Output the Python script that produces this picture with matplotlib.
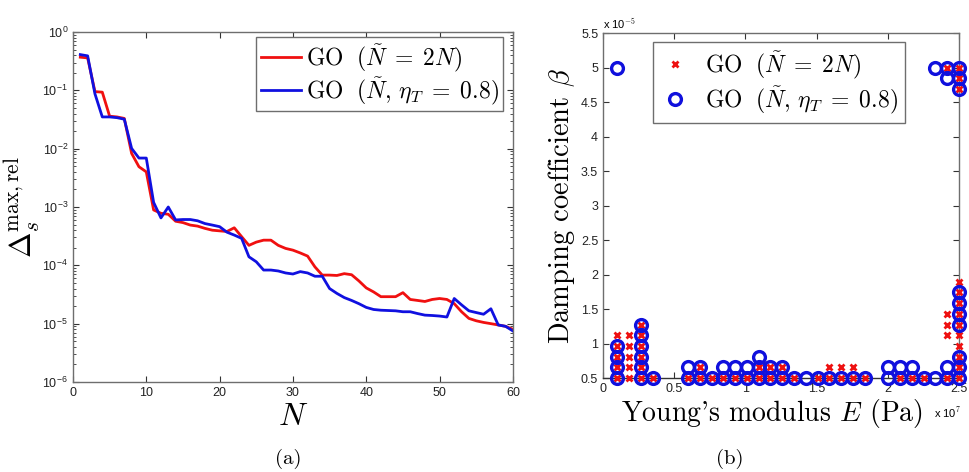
import matplotlib
matplotlib.use("Agg")
import matplotlib.pyplot as plt
from matplotlib.ticker import LogLocator, NullFormatter

plt.rcParams["mathtext.fontset"] = "cm"
plt.rcParams["font.family"] = ["Liberation Sans", "DejaVu Sans"]

# (a) convergence of the relative error vs N
n_vals = list(range(1, 61))
err_go_2n = [
    0.37, 0.36, 0.095, 0.093, 0.036, 0.035, 0.033, 0.0083, 0.0049, 0.0040,
    0.00089, 0.00078, 0.00075, 0.00057, 0.00054, 0.00049, 0.00047, 0.00043, 0.00040, 0.00039,
    0.00038, 0.00044, 0.00031, 0.00022, 0.00025, 0.00027, 0.00027, 0.00022, 0.000195, 0.000182,
    0.000163, 0.000144, 0.000094, 0.000068, 0.000068, 0.000067, 0.000072, 0.000069, 0.000054, 0.000041,
    0.000035, 0.000029, 0.000029, 0.000029, 0.000034, 0.000026, 0.000025, 0.000024, 0.000026, 0.000027,
    0.000026, 0.000022, 0.000016, 0.0000123, 0.0000112, 0.0000105, 0.0000100, 0.0000095, 0.0000090, 0.0000080,
]
err_go_eta = [
    0.41, 0.39, 0.087, 0.035, 0.035, 0.034, 0.032, 0.0101, 0.0069, 0.0069,
    0.0012, 0.00065, 0.0010, 0.00060, 0.00061, 0.00061, 0.00058, 0.00052, 0.00049, 0.00046,
    0.00037, 0.00033, 0.00029, 0.00014, 0.000115, 0.000083, 0.000083, 0.000080, 0.000074, 0.000071,
    0.000078, 0.000074, 0.000065, 0.000065, 0.000040, 0.000033, 0.000028, 0.000025, 0.000022, 0.000019,
    0.0000175, 0.000017, 0.0000168, 0.0000166, 0.000016, 0.000016, 0.0000149, 0.000014, 0.0000138, 0.0000135,
    0.000013, 0.000027, 0.000021, 0.0000166, 0.0000155, 0.0000145, 0.0000180, 0.0000095, 0.0000090, 0.0000075,
]

# (b) optimal parameters: E in units of 1e7 Pa, beta in units of 1e-5
red_E = [
    0.100, 0.100, 0.100, 0.100, 0.100,
    0.183, 0.183, 0.183, 0.183, 0.183,
    0.266, 0.266, 0.266, 0.266, 0.266, 0.266,
    0.348, 0.597, 0.679, 0.679, 0.762, 0.845, 0.928, 1.010,
    1.093, 1.093, 1.176, 1.176, 1.259, 1.259, 1.341, 1.507,
    1.590, 1.590, 1.672, 1.672, 1.755, 1.755, 1.838,
    2.086, 2.169, 2.252,
    2.417, 2.417, 2.417, 2.417, 2.417,
    2.500, 2.500, 2.500, 2.500, 2.500, 2.500, 2.500, 2.500, 2.500, 2.500,
    2.500, 2.500, 2.500,
]
red_beta = [
    0.500, 0.655, 0.810, 0.966, 1.121,
    0.500, 0.655, 0.810, 0.966, 1.121,
    0.500, 0.655, 0.810, 0.966, 1.121, 1.276,
    0.500, 0.500, 0.500, 0.655, 0.500, 0.500, 0.500, 0.500,
    0.500, 0.655, 0.500, 0.655, 0.500, 0.655, 0.500, 0.500,
    0.500, 0.655, 0.500, 0.655, 0.500, 0.655, 0.500,
    0.500, 0.500, 0.500,
    0.500, 1.121, 1.276, 1.431, 5.000,
    0.500, 0.655, 0.810, 0.966, 1.121, 1.276, 1.431, 1.586, 1.741, 1.897,
    4.690, 4.845, 5.000,
]
blue_E = [
    0.100, 0.100, 0.100, 0.100, 0.100,
    0.266, 0.266, 0.266, 0.266, 0.266, 0.266,
    0.348, 0.597, 0.597, 0.679, 0.679, 0.762, 0.845, 0.845,
    0.928, 0.928, 1.010, 1.010, 1.093, 1.093, 1.093,
    1.176, 1.176, 1.259, 1.259, 1.341, 1.424, 1.507, 1.590,
    1.672, 1.755, 1.838, 2.003, 2.003, 2.086, 2.086, 2.169, 2.169,
    2.252, 2.334, 2.334, 2.417, 2.417, 2.417, 2.417,
    2.500, 2.500, 2.500, 2.500, 2.500, 2.500, 2.500, 2.500, 2.500, 2.500,
]
blue_beta = [
    0.500, 0.655, 0.810, 0.966, 5.000,
    0.500, 0.655, 0.810, 0.966, 1.121, 1.276,
    0.500, 0.500, 0.655, 0.500, 0.655, 0.500, 0.500, 0.655,
    0.500, 0.655, 0.500, 0.655, 0.500, 0.655, 0.810,
    0.500, 0.655, 0.500, 0.655, 0.500, 0.500, 0.500, 0.500,
    0.500, 0.500, 0.500, 0.500, 0.655, 0.500, 0.655, 0.500, 0.655,
    0.500, 0.500, 5.000, 0.500, 0.655, 4.845, 5.000,
    0.500, 0.655, 0.810, 1.276, 1.431, 1.586, 1.741, 4.690, 4.845, 5.000,
]

label_2n = r"$\mathrm{GO}\ \ (\tilde{N}\;=\;2N)$"
label_eta = r"$\mathrm{GO}\ \ (\tilde{N},\,\eta_T\;=\;0.8)$"
spine_col = "#6e6e6e"

fig = plt.figure(figsize=(9.69, 4.72), dpi=100)
ax1 = fig.add_axes([0.0753, 0.1907, 0.454, 0.7415])
ax2 = fig.add_axes([0.6223, 0.199, 0.3674, 0.731])

# ---- (a)
ax1.semilogy(n_vals, err_go_2n, color="#f01010", lw=2.0, label=label_2n)
ax1.semilogy(n_vals, err_go_eta, color="#1010e0", lw=2.0, label=label_eta)
ax1.set_xlim(0, 60)
ax1.set_ylim(1e-6, 1)
ax1.set_xticks([0, 10, 20, 30, 40, 50, 60])
ax1.yaxis.set_major_locator(LogLocator(base=10, numticks=10))
ax1.yaxis.set_minor_locator(LogLocator(base=10, subs=range(2, 10), numticks=10))
ax1.yaxis.set_minor_formatter(NullFormatter())
ax1.set_xlabel(r"$N$", fontsize=23, labelpad=2)
ax1.set_ylabel(r"$\Delta_s^{\mathrm{max,rel}}$", fontsize=22, labelpad=0)
leg1 = ax1.legend(loc="upper left", bbox_to_anchor=(0.416, 0.985), fontsize=17,
                  frameon=True, fancybox=False, framealpha=1, handlelength=1.7,
                  handletextpad=0.2, borderpad=0.2, labelspacing=0.05,
                  borderaxespad=0)
leg1.get_frame().set_edgecolor(spine_col)
leg1.get_frame().set_linewidth(1.0)

# ---- (b)
ax2.plot(red_E, red_beta, "x", color="#ee1111", ms=4, mew=2.0, ls="none",
         clip_on=False, zorder=3, label=label_2n)
ax2.plot(blue_E, blue_beta, "o", color="#1010dd", mfc="none", ms=8.5, mew=2.4,
         ls="none", clip_on=False, zorder=4, label=label_eta)
ax2.set_xlim(0, 2.5)
ax2.set_ylim(0.5, 5.5)
ax2.set_xticks([0, 0.5, 1, 1.5, 2, 2.5])
ax2.set_xticklabels(["0", "0.5", "1", "1.5", "2", "2.5"])
ax2.set_yticks([0.5, 1, 1.5, 2, 2.5, 3, 3.5, 4, 4.5, 5, 5.5])
ax2.set_yticklabels(["0.5", "1", "1.5", "2", "2.5", "3", "3.5", "4", "4.5", "5", "5.5"])
ax2.set_xlabel(r"Young's modulus $E$ (Pa)", fontsize=20, family="cmr10", labelpad=-1)
ax2.xaxis.set_label_coords(0.475, -0.055, transform=ax2.transAxes)
ax2.xaxis.label.set_va("top")
ax2.set_ylabel(r"Damping coefficient $\beta$", fontsize=20.5, family="cmr10", labelpad=3)
ax2.text(1.006, -0.10, r"x 10$^{7}$", transform=ax2.transAxes, fontsize=8,
         ha="right", va="center")
ax2.text(0.0, 1.005, r"x 10$^{-5}$", transform=ax2.transAxes, fontsize=8,
         ha="left", va="bottom")
leg2 = ax2.legend(loc="upper left", bbox_to_anchor=(0.14, 0.975), fontsize=17,
                  frameon=True, fancybox=False, framealpha=1, handlelength=1.3,
                  handletextpad=0.6, borderpad=0.3, labelspacing=0.15,
                  borderaxespad=0)
leg2.get_frame().set_edgecolor(spine_col)
leg2.get_frame().set_linewidth(1.0)

for ax in (ax1, ax2):
    for s in ax.spines.values():
        s.set_color(spine_col)
        s.set_linewidth(1.0)
    ax.tick_params(which="both", direction="in", top=True, right=True,
                   labelsize=9, colors="#333333", labelcolor="#222222")
    ax.tick_params(which="major", length=4)
    ax.tick_params(which="minor", length=2)
    ax.set_facecolor("white")
ax2.spines["bottom"].set_color("#333333")

fig.text(0.297, 0.027, "(a)", fontsize=15, family="cmr10", ha="center", va="center")
fig.text(0.753, 0.027, "(b)", fontsize=15, family="cmr10", ha="center", va="center")

fig.savefig("out.png", dpi=100)
